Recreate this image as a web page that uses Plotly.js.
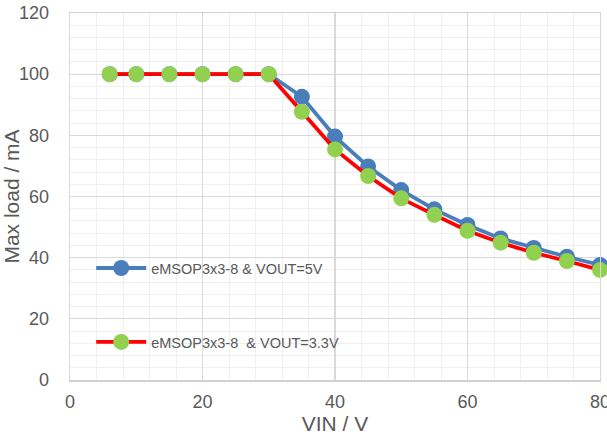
<!DOCTYPE html>
<html>
<head>
<meta charset="utf-8">
<script src="https://cdn.plot.ly/plotly-3.0.1.min.js"></script>
<style>html,body{margin:0;padding:0;background:#fff;overflow:hidden;}#chart{width:607px;height:436px;overflow:hidden;}</style>
</head>
<body>
<div id="chart"></div>
<script>
const vin = [6, 10, 15, 20, 25, 30, 35, 40, 45, 50, 55, 60, 65, 70, 75, 80];
const load5V = [100, 100, 100, 100, 100, 100, 92.6, 79.6, 69.8, 62.1, 55.8, 50.7, 46.3, 43.2, 40.3, 37.6];
const load33V = [100, 100, 100, 100, 100, 100, 87.7, 75.4, 66.7, 59.4, 54.0, 48.8, 44.9, 41.6, 38.9, 36.0];
const name5V = 'eMSOP3x3-8 & VOUT=5V';
const name33V = 'eMSOP3x3-8  & VOUT=3.3V';

const txt = '#595959';
const fam = 'Liberation Sans, Arial, sans-serif';
const tickFont = {family: fam, size: 18, color: txt};
const legFont = {family: fam, size: 14.5, color: txt};
const titleFont = {family: fam, size: 21, color: txt};

const traces = [
  {x: vin, y: load5V, name: name5V, mode: 'lines+markers', cliponaxis: false,
   line: {color: '#4A7EBB', width: 3.8}, marker: {color: '#4A7EBB', size: 16}, legend: 'legend'},
  {x: vin, y: load33V, name: name33V, mode: 'lines+markers', cliponaxis: false,
   line: {color: '#FF0000', width: 3.8}, marker: {color: '#92D050', size: 16}, legend: 'legend2'}
];

const layout = {
  width: 607, height: 436,
  margin: {l: 70, r: 7, t: 13, b: 56},
  paper_bgcolor: '#fff', plot_bgcolor: '#fff',
  font: tickFont,
  showlegend: true,
  legend: {x: 0.04, y: 0.305, xanchor: 'left', yanchor: 'middle', bgcolor: 'rgba(0,0,0,0)', font: legFont, itemwidth: 50},
  legend2: {x: 0.04, y: 0.1035, xanchor: 'left', yanchor: 'middle', bgcolor: 'rgba(0,0,0,0)', font: legFont, itemwidth: 50},
  xaxis: {
    range: [0, 80], dtick: 20, tick0: 0, showgrid: true, gridcolor: '#d9d9d9', gridwidth: 1.3,
    zeroline: false, showline: true, mirror: true, linecolor: '#d0d0d0', linewidth: 1.5,
    ticks: '', ticklabelstandoff: 5, ticklabeloverflow: 'allow',
    minor: {dtick: 4, showgrid: true, gridcolor: '#efefef', gridwidth: 1},
    title: {text: 'VIN / V', font: titleFont, standoff: 4},
    tickfont: tickFont
  },
  yaxis: {
    range: [0, 120], dtick: 20, tick0: 0, showgrid: true, gridcolor: '#d9d9d9', gridwidth: 1.3,
    zeroline: false, showline: true, mirror: true, linecolor: '#d9d9d9', linewidth: 1.3,
    ticks: '', ticklabelstandoff: 16,
    minor: {dtick: 4, showgrid: true, gridcolor: '#efefef', gridwidth: 1},
    title: {text: 'Max load / mA', font: titleFont, standoff: 6},
    tickfont: tickFont
  }
};

Plotly.newPlot('chart', traces, layout, {displayModeBar: false, staticPlot: true});
</script>
</body>
</html>
